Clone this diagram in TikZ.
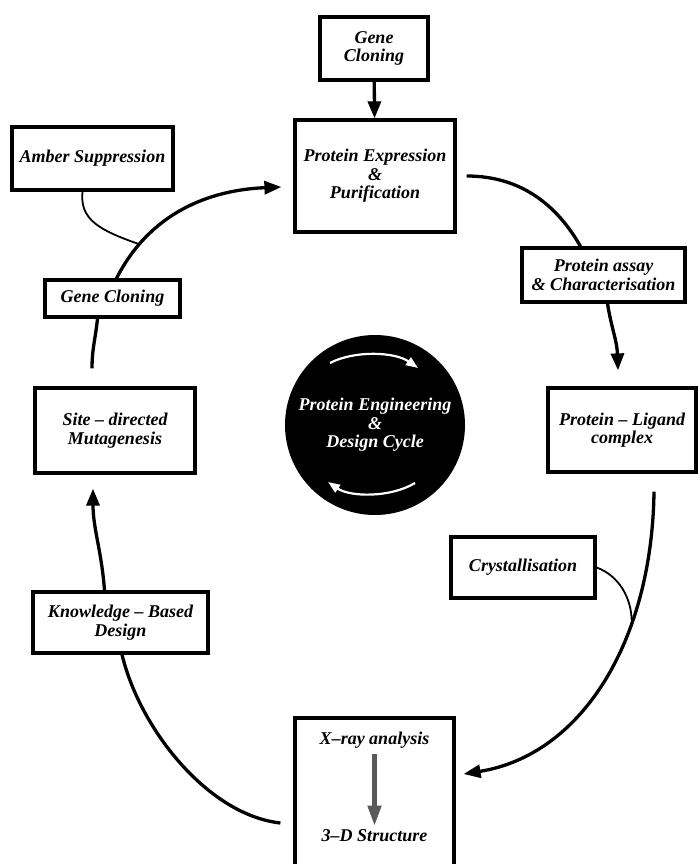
\documentclass[tikz,border=0pt]{standalone}
\usepackage{fontspec}
\setmainfont{Liberation Serif}
\usetikzlibrary{arrows.meta,calc}
\tikzset{
  lbl/.style={font=\fontsize{18}{18.5}\selectfont\bfseries\itshape, align=center, inner sep=0pt},
  box/.style={lbl, draw, line width=3.2pt, fill=white},
  flow/.style={line width=3.3pt},
  tip/.style={-{Triangle[length=17pt,width=13pt]}},
  thinline/.style={line width=1.8pt},
  wtip/.style={white, line width=2.2pt, -{Triangle[length=12pt,width=9pt]}},
}
\begin{document}
\begin{tikzpicture}[x=1pt,y=-1pt]
\useasboundingbox (0,0) rectangle (698,864);

% boxes
\node[box, minimum width=108pt, minimum height=63pt] (gc1) at (374,48.5) {Gene\\Cloning};
\node[box, minimum width=160pt, minimum height=112pt] (pe) at (375,176) {Protein Expression\\\&\\Purification};
\node[box, minimum width=161pt, minimum height=63pt] (am) at (92.5,158.5) {Amber Suppression};
\node[box, minimum width=135pt, minimum height=37pt] (gc2) at (112.5,298.5) {Gene Cloning};
\node[box, minimum width=160pt, minimum height=85pt] (sd) at (115,430.5) {Site -- directed\\Mutagenesis};
\node[box, minimum width=163pt, minimum height=54pt] (pa) at (603.5,275) {Protein assay\\\& Characterisation};
\node[box, minimum width=148pt, minimum height=84pt] (pl) at (622,430) {Protein -- Ligand\\complex};
\node[box, minimum width=144pt, minimum height=61pt] (cr) at (523,567.5) {Crystallisation};
\node[box, minimum width=175pt, minimum height=61pt] (kb) at (120.5,622.5) {Knowledge -- Based\\Design};
\node[box, minimum width=159pt, minimum height=148pt] (xray) at (374.5,792) {};
\node[lbl] (xa) at (374.5,740) {X--ray analysis};
\node[lbl] (xs) at (374.5,836) {3--D Structure};

% central disc
\node[lbl, circle, fill=black, text=white, minimum size=180pt] (cyc) at (375,425) {Protein Engineering\\\&\\Design Cycle};
\draw[wtip] ($(cyc.center)+(-45,-62)$) .. controls ($(cyc.center)+(-20,-75)$) and ($(cyc.center)+(20,-73)$) .. ($(cyc.center)+(43,-57)$);
\draw[wtip] ($(cyc.center)+(40,58)$) .. controls ($(cyc.center)+(15,73)$) and ($(cyc.center)+(-25,72)$) .. ($(cyc.center)+(-47,57)$);

% connectors
\draw[flow,tip] (gc1) -- (pe);
\draw[flow] ([xshift=10pt]pe.east) .. controls +(60,0) and +(-20,-35) .. ([xshift=-23pt]pa.north);
\draw[flow,tip] ([xshift=4pt]pa.south) .. controls +(4,25) and +(-1,-30) .. ([xshift=-4pt,yshift=16pt]pl.north);
\draw[flow,tip] ([xshift=32pt,yshift=-18pt]pl.south) .. controls +(-2,150) and +(118,-19) .. ([xshift=8pt,yshift=18pt]xray.east) coordinate[pos=0.32] (crj);
\draw[thinline] (cr.east) .. controls +(22,8) and +(0,-25) .. (crj);
\draw[line width=4.3pt, color=black!65, -{Triangle[length=20pt,width=13pt]}, shorten <=6pt, shorten >=4pt] (xa) -- (xs);
\draw[flow] ([xshift=-13pt,yshift=-31pt]xray.west) .. controls +(-72,-8) and +(18,75) .. ([xshift=1.5pt]kb.south);
\draw[flow,tip] ([xshift=-16pt]kb.north) .. controls +(-3,-40) and +(0,40) .. ([xshift=-22pt,yshift=-14pt]sd.south);
\draw[flow] ([xshift=-23pt,yshift=18pt]sd.north) .. controls +(0,-20) and +(-2,20) .. ([xshift=-15pt]gc2.south);
\draw[flow,tip] ([xshift=4pt]gc2.north) .. controls +(33,-65) and +(-73,3) .. ([xshift=-12pt,yshift=-11pt]pe.west) coordinate[pos=0.2] (amj);
\draw[thinline] ([xshift=-10pt]am.south) .. controls +(-3,28) and +(-40,-14) .. (amj);
\end{tikzpicture}
\end{document}
